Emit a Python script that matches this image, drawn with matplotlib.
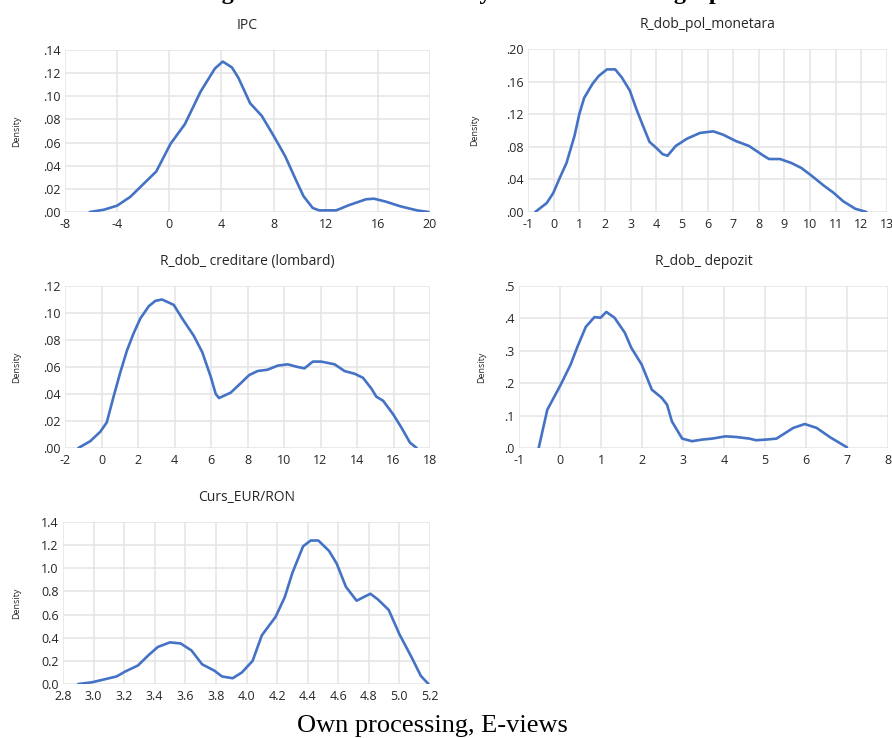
import numpy as np
from matplotlib import pyplot as plt

# IPC
ipc_x = [-6.1, -5.0, -4.0, -3.0, -2.0, -1.0, 0.1, 1.2, 2.4, 3.5, 4.1, 4.8, 5.3, 6.2,
         7.1, 8.1, 8.9, 9.7, 10.3, 11.0, 11.5, 12.8, 13.8, 15.1, 15.7, 16.6, 17.7,
         19.0, 19.9]
ipc_y = [0.000, 0.002, 0.0055, 0.013, 0.024, 0.035, 0.059, 0.076, 0.104, 0.124,
         0.130, 0.125, 0.116, 0.094, 0.083, 0.064, 0.048, 0.028, 0.0136, 0.0035,
         0.0014, 0.0014, 0.006, 0.011, 0.0115, 0.009, 0.005, 0.0014, 0.000]

# R_dob_pol_monetara
pol_x = [-0.72, -0.27, -0.02, 0.24, 0.5, 0.81, 1.0, 1.19, 1.51, 1.76, 2.08, 2.4,
         2.66, 2.97, 3.23, 3.48, 3.74, 3.99, 4.25, 4.44, 4.76, 5.2, 5.71, 6.22,
         6.6, 7.11, 7.62, 8.19, 8.4, 8.83, 9.28, 9.66, 10.04, 10.55, 10.9, 11.3,
         11.76, 12.2]
pol_y = [0.000, 0.011, 0.023, 0.042, 0.060, 0.093, 0.120, 0.140, 0.157, 0.167,
         0.175, 0.175, 0.165, 0.149, 0.126, 0.106, 0.086, 0.079, 0.071, 0.069,
         0.081, 0.090, 0.097, 0.099, 0.095, 0.087, 0.081, 0.069, 0.065, 0.065,
         0.060, 0.054, 0.045, 0.032, 0.024, 0.013, 0.004, 0.000]

# R_dob_ creditare (lombard)
lom_x = [-1.27, -0.62, -0.07, 0.29, 0.66, 1.03, 1.39, 1.76, 2.13, 2.59, 2.95,
         3.32, 3.96, 4.42, 5.06, 5.52, 5.98, 6.26, 6.44, 7.08, 7.63, 8.09, 8.55,
         9.1, 9.65, 10.2, 10.75, 11.12, 11.58, 12.04, 12.77, 13.32, 13.87, 14.33,
         14.79, 15.06, 15.43, 15.98, 16.44, 16.9, 17.27]
lom_y = [0.000, 0.005, 0.012, 0.019, 0.038, 0.056, 0.072, 0.085, 0.096, 0.105,
         0.109, 0.110, 0.106, 0.096, 0.083, 0.071, 0.053, 0.040, 0.037, 0.041,
         0.048, 0.054, 0.057, 0.058, 0.061, 0.062, 0.060, 0.059, 0.064, 0.064,
         0.062, 0.057, 0.055, 0.052, 0.044, 0.038, 0.035, 0.025, 0.015, 0.004,
         0.000]

# R_dob_ depozit
dep_x = [-0.52, -0.31, 0.02, 0.26, 0.43, 0.63, 0.84, 0.99, 1.13, 1.33, 1.58,
         1.74, 1.99, 2.24, 2.48, 2.61, 2.73, 2.98, 3.22, 3.47, 3.71, 4.04, 4.29,
         4.62, 4.78, 5.03, 5.28, 5.69, 5.97, 6.26, 6.59, 7.0]
dep_y = [0.000, 0.118, 0.196, 0.258, 0.314, 0.374, 0.404, 0.402, 0.420, 0.402,
         0.356, 0.309, 0.258, 0.180, 0.155, 0.134, 0.082, 0.029, 0.021, 0.026,
         0.029, 0.036, 0.034, 0.029, 0.024, 0.026, 0.029, 0.062, 0.074, 0.062,
         0.033, 0.002]

# Curs_EUR/RON
eur_x = [2.90, 2.99, 3.07, 3.15, 3.21, 3.29, 3.36, 3.42, 3.50, 3.57, 3.64, 3.71,
         3.79, 3.84, 3.91, 3.97, 4.04, 4.10, 4.19, 4.25, 4.30, 4.37, 4.42, 4.47,
         4.54, 4.59, 4.65, 4.72, 4.75, 4.81, 4.86, 4.93, 5.00, 5.08, 5.14, 5.19]
eur_y = [0.00, 0.015, 0.04, 0.065, 0.11, 0.16, 0.25, 0.32, 0.36, 0.35, 0.29, 0.17,
         0.115, 0.065, 0.05, 0.10, 0.20, 0.42, 0.58, 0.75, 0.96, 1.19, 1.24, 1.24,
         1.15, 1.04, 0.84, 0.72, 0.74, 0.78, 0.73, 0.64, 0.43, 0.23, 0.07, 0.00]

W, H = 892, 738
fig = plt.figure(figsize=(W / 100, H / 100), dpi=100)
plt.rcParams['font.family'] = ['Open Sans', 'DejaVu Sans']

blue = '#4472C4'
grid = '#e4e4e4'
txt = '#262626'


def panel(px, x, y, title, xt, yt, ydec, dotfmt, lab_off):
    l, r, t, b = px
    ax = fig.add_axes([l / W, 1 - b / H, (r - l) / W, (b - t) / H])
    ax.plot(x, y, color=blue, lw=1.9, solid_joinstyle='round',
            solid_capstyle='round')
    ax.set_xlim(xt[0], xt[-1])
    ax.set_ylim(yt[0], yt[-1])
    ax.set_xticks(xt)
    ax.set_yticks(yt)
    if dotfmt:
        ax.set_yticklabels([('%.*f' % (ydec, v))[1:] for v in yt])
    else:
        ax.set_yticklabels(['%.*f' % (ydec, v) for v in yt])
    ax.set_xticklabels([('%.1f' % v) if isinstance(v, float) else str(v) for v in xt])
    for s in ax.spines.values():
        s.set_visible(False)
    ax.grid(True, color=grid, lw=1.1)
    ax.set_axisbelow(True)
    ax.tick_params(length=0, labelsize=9, colors=txt)
    ax.tick_params(axis='x', pad=4)
    ax.tick_params(axis='y', pad=3)
    ax.set_title(title, fontsize=10, color=txt, pad=15)
    ax.set_ylabel('Density', fontsize=6.5, color=txt)
    ax.yaxis.set_label_coords(-lab_off / (r - l), 0.5)
    return ax


panel((65, 430, 50, 212), ipc_x, ipc_y, 'IPC',
      [-8, -4, 0, 4, 8, 12, 16, 20], [0, 0.02, 0.04, 0.06, 0.08, 0.10, 0.12, 0.14],
      2, True, 44)
panel((528, 887, 49, 212), pol_x, pol_y, 'R_dob_pol_monetara',
      list(range(-1, 14)), [0, 0.04, 0.08, 0.12, 0.16, 0.20],
      2, True, 49)
panel((65, 430, 286, 448), lom_x, lom_y, 'R_dob_ creditare (lombard)',
      list(range(-2, 19, 2)), [0, 0.02, 0.04, 0.06, 0.08, 0.10, 0.12],
      2, True, 44)
panel((519, 888, 286, 448), dep_x, dep_y, 'R_dob_ depozit',
      list(range(-1, 9)), [0, 0.1, 0.2, 0.3, 0.4, 0.5],
      1, True, 33)
panel((63, 430, 522, 684), eur_x, eur_y, 'Curs_EUR/RON',
      [2.8, 3.0, 3.2, 3.4, 3.6, 3.8, 4.0, 4.2, 4.4, 4.6, 4.8, 5.0, 5.2],
      [0, 0.2, 0.4, 0.6, 0.8, 1.0, 1.2, 1.4],
      1, False, 42)

# heading sits above the page edge, only its descenders show
fig.text(200 / W, 1 + 1 / H, 'Figure 2. The kernel density estimation \u2013 line graph',
         fontsize=17.5, fontweight='bold', family='Liberation Serif',
         ha='left', va='baseline', color='black')
fig.text(432 / W, 1 - 726 / H, 'Own processing, E-views', fontsize=19,
         family='Liberation Serif', ha='center', va='center', color='black')

fig.savefig('out.png', dpi=100)
